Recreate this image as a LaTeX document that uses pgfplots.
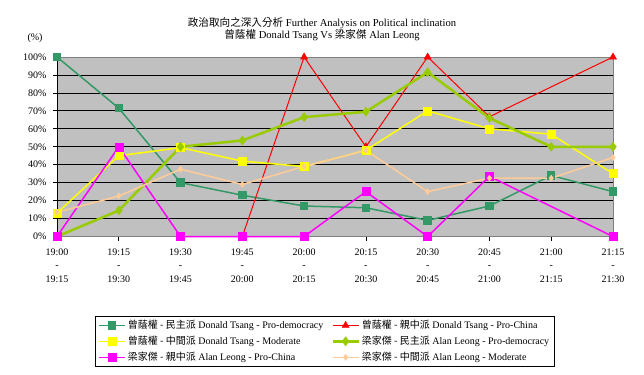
\documentclass[border=0pt]{standalone}
\usepackage{pgfplots}
\pgfplotsset{compat=1.18}
\usepackage{fontspec}
\setmainfont{Liberation Serif}
\newfontfamily\cjk{Noto Sans CJK TC}
\definecolor{cgreen}{HTML}{339966}
\definecolor{cred}{HTML}{FF0000}
\definecolor{cyellow}{HTML}{FFFF00}
\definecolor{clime}{HTML}{99CC00}
\definecolor{cmag}{HTML}{FF00FF}
\definecolor{cpeach}{HTML}{FFCC99}
\definecolor{bggray}{HTML}{C0C0C0}
\definecolor{bordergray}{HTML}{808080}
\newcommand{\fs}{\fontsize{10bp}{12bp}\selectfont}
\begin{document}
\begin{tikzpicture}[font=\fs]
\useasboundingbox (0bp,0bp) rectangle (644bp,-375bp);
\node[font=\fontsize{10.6bp}{12bp}\selectfont] at (322bp,-22.7bp) {{\cjk 政治取向之深入分析} Further Analysis on Political inclination};
\node[font=\fontsize{10.6bp}{12bp}\selectfont] at (322bp,-35.5bp) {{\cjk 曾蔭權} Donald Tsang Vs {\cjk 梁家傑} Alan Leong};
\node at (35bp,-38.3bp) {(\%)};
\begin{axis}[
  at={(57bp,-236.5bp)}, anchor=south west,
  scale only axis, width=556bp, height=179.5bp,
  xmin=0, xmax=9, ymin=0, ymax=100,
  clip=false,
  axis background/.style={fill=bggray},
  axis line style={draw=bordergray, line width=0.75bp},
  ytick={0,10,...,100},
  yticklabels={0\%,10\%,20\%,30\%,40\%,50\%,60\%,70\%,80\%,90\%,100\%},
  ymajorgrids, grid style={black, line width=0.75bp},
  xtick={0,...,9},
  xticklabels={{19:00\\-\\19:15},{19:15\\-\\19:30},{19:30\\-\\19:45},{19:45\\-\\20:00},{20:00\\-\\20:15},{20:15\\-\\20:30},{20:30\\-\\20:45},{20:45\\-\\21:00},{21:00\\-\\21:15},{21:15\\-\\21:30}},
  xtick pos=bottom, ytick pos=left,
  tick align=outside, major tick length=4bp,
  tick style={black, line width=0.75bp},
  tick label style={font=\fs},
  yticklabel style={xshift=-3bp},
  xticklabel style={align=center, font=\fontsize{10bp}{13.2bp}\selectfont, yshift=-5bp},
  legend columns=2,
  legend cell align=left,
  legend style={at={(0.0683,-0.443)}, anchor=north west, draw=black, line width=0.75bp,
    font=\fs, inner xsep=3bp, inner ysep=2bp, row sep=2bp,
    /tikz/every even column/.append style={column sep=6bp}},
  legend image code/.code={\draw[mark repeat=2,mark phase=2,#1] plot coordinates {(0bp,0bp) (13bp,0bp) (26bp,0bp)};},
]
\addplot[cgreen, line width=1.5bp, mark=square*, mark size=3.5bp, mark options={fill=cgreen, draw=cgreen}] coordinates {
(0,100) (1,71.5) (2,30) (3,23) (4,17) (5,16) (6,9) (7,17) (8,34) (9,25)};
\addlegendentry{{\cjk 曾蔭權 - 民主派} Donald Tsang - Pro-democracy}
\addplot[cred, line width=1bp, mark=triangle*, mark size=4bp, mark options={fill=cred, draw=cred, line width=0.5bp}] coordinates {
(3,0) (4,100) (5,50) (6,100) (7,66.7) (9,100)};
\addlegendentry{{\cjk 曾蔭權 - 親中派} Donald Tsang - Pro-China}
\addplot[cyellow, line width=1.5bp, mark=square*, mark size=4bp, mark options={fill=cyellow, draw=cyellow, line width=0.5bp}] coordinates {
(0,13) (1,45) (2,49.5) (3,42) (4,39) (5,48) (6,70) (7,60) (8,57) (9,35)};
\addlegendentry{{\cjk 曾蔭權 - 中間派} Donald Tsang - Moderate}
\addplot[clime, line width=2.5bp, mark=diamond*, mark size=4.5bp, mark options={fill=clime, draw=clime, line width=0.5bp}] coordinates {
(0,0) (1,14.5) (2,50) (3,53.5) (4,66.5) (5,69.5) (6,91.5) (7,66) (8,50) (9,50)};
\addlegendentry{{\cjk 梁家傑 - 民主派} Alan Leong - Pro-democracy}
\addplot[cmag, line width=1.5bp, mark=square*, mark size=4bp, mark options={fill=cmag, draw=cmag, line width=0.5bp}] coordinates {
(0,0) (1,50) (2,0) (3,0) (4,0) (5,25) (6,0) (7,33.5) (9,0)};
\addlegendentry{{\cjk 梁家傑 - 親中派} Alan Leong - Pro-China}
\addplot[cpeach, line width=1.5bp, mark=diamond*, mark size=3bp, mark options={fill=cpeach, draw=cpeach, line width=0.5bp}] coordinates {
(0,13.5) (1,22.5) (2,37.5) (3,29) (4,39) (5,48) (6,25) (7,32.5) (8,32.5) (9,44)};
\addlegendentry{{\cjk 梁家傑 - 中間派} Alan Leong - Moderate}
\draw[black, line width=0.75bp] (rel axis cs:0,0) -- (rel axis cs:0,1);
\draw[bordergray, line width=0.75bp] (rel axis cs:0,1) -- (rel axis cs:1,1) -- (rel axis cs:1,0);
\end{axis}
\end{tikzpicture}
\end{document}
